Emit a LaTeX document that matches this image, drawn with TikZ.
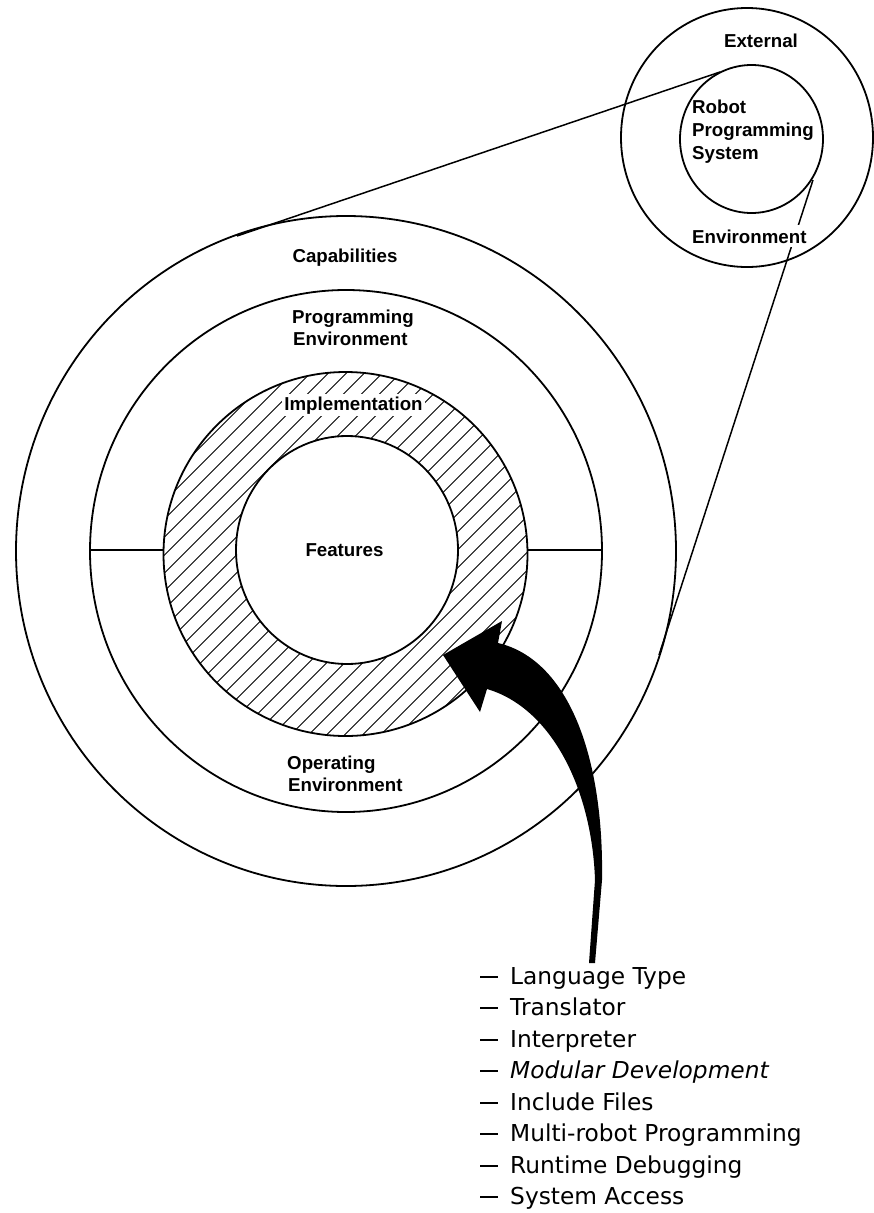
\documentclass[tikz,border=0pt]{standalone}
\usepackage{fontspec}
\setmainfont{Liberation Sans}
\newfontfamily\listfont{DejaVu Sans}
\newcommand\ldash{\rule[6.5pt]{18pt}{1.8pt}\hspace{12pt}}
\begin{document}
\begin{tikzpicture}[x=1pt,y=-1pt,
  ring/.style={line width=1.8pt},
  hatchline/.style={line width=0.9pt},
  lead/.style={line width=1.5pt},
  lbl/.style={font=\fontsize{18.7}{22}\selectfont\bfseries, inner sep=0pt},
  listitem/.style={font=\listfont\fontsize{23.3}{28}\selectfont, inner sep=0pt, anchor=base west},
]
\useasboundingbox (0,0) rectangle (874,1213);
\fill[white] (0,0) rectangle (874,1213);

% tangent lines of the callout
\coordinate (u1) at (237,236);
\coordinate (u2) at (720,72);
\coordinate (l1) at (813,180);
\coordinate (l2) at (659,655);
\draw[lead] (u1) -- (u2);
\draw[lead] (l1) -- (l2);

% big concentric circles
\draw[ring] (346,551) ellipse [x radius=330pt, y radius=335pt];
\draw[ring] (346,551) ellipse [x radius=256pt, y radius=261pt];
\begin{scope}
  \clip (345.5,554) ellipse [x radius=182pt, y radius=182pt];
  \foreach \i in {-17,...,17} {
    \draw[hatchline] ({345.5+\i*18-220},{554+220}) -- ++(440,-440);
  }
\end{scope}
\draw[ring] (345.5,554) ellipse [x radius=182pt, y radius=182pt];
\draw[ring, fill=white] (347,550) ellipse [x radius=111pt, y radius=114pt];

% dividers
\coordinate (dl1) at (90,550);
\coordinate (dl2) at (164,550);
\coordinate (dr1) at (527,550);
\coordinate (dr2) at (602,550);
\draw[ring] (dl1) -- (dl2);
\draw[ring] (dr1) -- (dr2);

% small circles
\draw[ring] (747,137.5) ellipse [x radius=126pt, y radius=129.5pt];
\draw[ring] (751.5,139) ellipse [x radius=71.5pt, y radius=74pt];

% labels big circle
\node[lbl, anchor=base] (cap) at (345,262) {Capabilities};
\node[lbl, anchor=base west] (prog1) at (292,323) {Programming};
\node[lbl, anchor=base west] (prog2) at (293,345) {Environment};
\node[lbl, anchor=base, fill=white, inner xsep=2pt, inner ysep=2pt] (impl) at (353.5,410) {Implementation};
\node[lbl, anchor=base] (feat) at (344.5,556) {Features};
\node[lbl, anchor=base west] (op1) at (287,769) {Operating};
\node[lbl, anchor=base west] (op2) at (288,791) {Environment};

% labels small circle
\node[lbl, anchor=base] (ext) at (761,47) {External};
\node[lbl, anchor=base west] (rps1) at (692,113) {Robot};
\node[lbl, anchor=base west] (rps2) at (692,136) {Programming};
\node[lbl, anchor=base west] (rps3) at (692,159) {System};
\node[lbl, anchor=base west, fill=white, inner xsep=1pt, inner ysep=4pt] (env) at (691,243) {Environment};

% big curved arrow
\fill[black] (589,963) -- (595,880) .. controls (592,790) and (552,708) .. (487,689)
  -- (480,712) -- (443,655) -- (502,621) -- (498,643)
  .. controls (570,660) and (604,760) .. (602,880) -- (595,963) -- cycle;

% list
\foreach \t [count=\i] in {Language Type, Translator, Interpreter, {\itshape Modular Development}, Include Files, Multi-robot Programming, Runtime Debugging, System Access} {
  \node[listitem] (li\i) at (480,{984+(\i-1)*31.5}) {\ldash\t};
}
\end{tikzpicture}
\end{document}
